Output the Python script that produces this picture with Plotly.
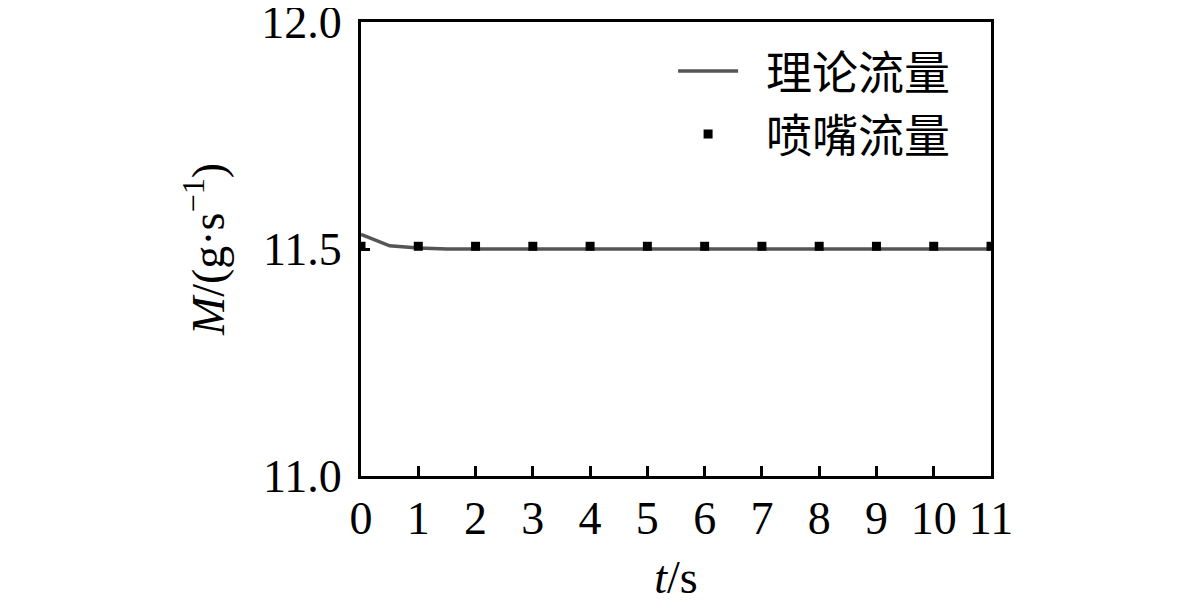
import plotly.graph_objects as go

# theoretical flow (line) and nozzle flow (markers), t in s, M in g/s
t_theory = [0, 0.5, 1, 1.5, 2, 3, 4, 5, 6, 7, 8, 9, 10, 11]
m_theory = [11.532, 11.507, 11.502, 11.5, 11.5, 11.5, 11.5, 11.5, 11.5, 11.5, 11.5, 11.5, 11.5, 11.5]

t_nozzle = [0, 1, 2, 3, 4, 5, 6, 7, 8, 9, 10, 11]
m_nozzle = [11.506] * 12

x_ticks = list(range(0, 12))
y_ticks = [11.0, 11.5, 12.0]
y_labels = ["11.0", "11.5", "12.0"]

FONT = "Liberation Serif, Times New Roman, Noto Sans CJK SC, serif"
FS = 46
SP = "\u2002"  # keeps a gap between legend symbol and text

fig = go.Figure()
fig.add_trace(go.Scatter(
    x=t_theory, y=m_theory, mode="lines", name=SP + "理论流量",
    line=dict(color="#555555", width=3.5),
))
fig.add_trace(go.Scatter(
    x=t_nozzle, y=m_nozzle, mode="markers", name=SP + "喷嘴流量",
    marker=dict(symbol="square", size=9, color="black"),
))

# page body has an 8px margin, so margins are shifted by that
fig.update_layout(
    width=1181, height=614,
    paper_bgcolor="white", plot_bgcolor="white",
    margin=dict(l=353, r=198, t=14, b=146),
    font=dict(family=FONT, size=FS, color="black"),
    showlegend=True,
    legend=dict(
        x=0.943, y=0.972, xanchor="right", yanchor="top",
        bgcolor="rgba(0,0,0,0)", font=dict(size=FS),
        tracegroupgap=0, itemwidth=60,
    ),
)
fig.update_xaxes(
    range=[0, 11], tickvals=x_ticks, ticks="inside", ticklen=10, tickwidth=3,
    tickcolor="black", showline=True, linecolor="black", linewidth=3,
    mirror=True, showgrid=False, zeroline=False, automargin=False,
    tickfont=dict(size=FS), ticklabeloverflow="allow",
    title=dict(text="<i>t</i>/s", font=dict(size=FS), standoff=18),
)
fig.update_yaxes(
    range=[11.0, 12.0], tickvals=y_ticks, ticktext=y_labels, ticks="inside",
    ticklen=9, tickwidth=3, tickcolor="black", showline=True, linecolor="black",
    linewidth=3, mirror=True, showgrid=False, zeroline=False, automargin=False,
    tickfont=dict(size=FS), ticklabeloverflow="allow", ticklabelstandoff=7,
    title=dict(text="<i>M</i>/(g·s<sup>−1</sup>)", font=dict(size=FS), standoff=23),
)

fig.write_html("out.html")
